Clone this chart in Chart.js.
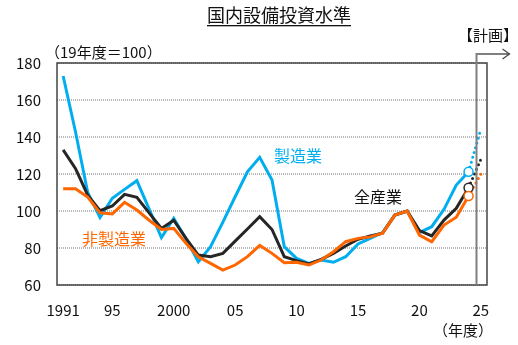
<!DOCTYPE html>
<html lang="ja">
<head>
<meta charset="utf-8">
<title>国内設備投資水準</title>
<script src="https://cdn.jsdelivr.net/npm/chart.js@4.4.1/dist/chart.umd.min.js"></script>
<style>
  html, body { margin: 0; padding: 0; background: #fff; }
  #wrap { width: 518px; height: 345px; }
</style>
</head>
<body>
<div id="wrap"><canvas id="chart" width="518" height="345"></canvas></div>
<script>
// 年度 (実績 1991-2024, 計画 2025)
const years = [1991, 1992, 1993, 1994, 1995, 1996, 1997, 1998, 1999, 2000,
  2001, 2002, 2003, 2004, 2005, 2006, 2007, 2008, 2009, 2010,
  2011, 2012, 2013, 2014, 2015, 2016, 2017, 2018, 2019, 2020,
  2021, 2022, 2023, 2024];
const planYears = [2024, 2025];

// 19年度=100
const allIndustry = [133, 123, 108.6, 100.2, 102.7, 109, 107.4, 99, 90.6, 95,
  85.2, 76.2, 75.3, 77.1, 83.7, 90.3, 96.9, 90, 75.3, 73.2,
  71.4, 73.9, 77.1, 81.1, 84.7, 86.5, 88, 97.8, 100, 89.4,
  86.5, 95.1, 101.5, 112.6];
const manufacturing = [173, 143, 110, 96.5, 106.9, 111.7, 116.4, 101, 85.6, 96,
  85, 72.5, 80.7, 94, 107.7, 121.2, 129, 116.8, 80.7, 74.4,
  71.7, 73.5, 72.3, 75.3, 82.2, 85.2, 88.3, 97.8, 100, 88.3,
  91.5, 100.9, 114, 121.2];
const nonManufacturing = [112, 112, 107.5, 99, 98.4, 104.7, 100.5, 95, 90, 90.6,
  82.5, 75.3, 71.7, 68.1, 70.8, 75.3, 81.4, 77.1, 72, 72.3,
  70.8, 73.5, 78, 83.4, 85.2, 86, 88, 97.8, 100, 87,
  83.4, 92.4, 96.6, 108.1];

const allPlan = [112.6, 128];
const mfgPlan = [121.2, 144.3];
const nonMfgPlan = [108.1, 120];

const xTickYears = [1991, 1995, 2000, 2005, 2010, 2015, 2020, 2025];
const xTickLabels = ['1991', '95', '2000', '05', '10', '15', '20', '25'];

const BLUE = '#00AEEF';
const BLACK = '#262626';
const ORANGE = '#FF6600';
const FONT = "'Noto Sans CJK JP', 'Noto Sans', sans-serif";

function pts(xs, ys) { return xs.map((x, i) => ({ x: x, y: ys[i] })); }

function actual(label, ys, color) {
  const n = ys.length;
  return {
    label: label,
    data: pts(years, ys),
    borderColor: color,
    borderWidth: 3,
    tension: 0,
    pointRadius: ys.map((v, i) => i === n - 1 ? 4.5 : 0),
    pointBackgroundColor: '#fff',
    pointBorderColor: color,
    pointBorderWidth: 1.5,
    pointHoverRadius: 0
  };
}

function plan(label, ys, color) {
  return {
    label: label,
    data: pts(planYears, ys),
    borderColor: color,
    borderWidth: 3,
    borderDash: [0, 5],
    borderCapStyle: 'round',
    pointRadius: 0,
    tension: 0
  };
}

// 枠、計画の区切り線と矢印、注記テキスト
const decorations = {
  id: 'decorations',
  afterDraw(chart) {
    const { ctx, chartArea: a, scales } = chart;
    ctx.save();

    ctx.strokeStyle = '#444';
    ctx.lineWidth = 1.5;
    ctx.strokeRect(a.left, a.top, a.right - a.left, a.bottom - a.top);

    const sx = Math.round(scales.x.getPixelForValue(2024.6)) + 0.5;
    const ay = a.top - 9;
    ctx.strokeStyle = '#808080';
    ctx.lineWidth = 2;
    ctx.beginPath();
    ctx.moveTo(sx, a.bottom);
    ctx.lineTo(sx, ay);
    ctx.lineTo(sx + 33, ay);
    ctx.stroke();
    ctx.lineWidth = 1.2;
    ctx.strokeStyle = '#444';
    ctx.beginPath();
    ctx.moveTo(sx + 26, ay - 5);
    ctx.lineTo(sx + 33, ay);
    ctx.lineTo(sx + 26, ay + 5);
    ctx.stroke();

    ctx.textBaseline = 'middle';
    ctx.fillStyle = '#111';
    ctx.font = '18px ' + FONT;
    ctx.textAlign = 'center';
    ctx.fillText('国内設備投資水準', 279, 15);
    const tw = ctx.measureText('国内設備投資水準').width;
    ctx.fillRect(279 - tw / 2, 25, tw, 1.3);

    ctx.font = '15px ' + FONT;
    ctx.textAlign = 'left';
    ctx.fillText('（19年度＝100）', 45, 52);
    ctx.fillText('【計画】', 458, 35);
    ctx.textAlign = 'right';
    ctx.fillText('（年度）', 493, 330);

    ctx.font = '16px ' + FONT;
    ctx.textAlign = 'left';
    ctx.fillStyle = BLUE;
    ctx.fillText('製造業', 274, 156);
    ctx.fillStyle = '#111';
    ctx.fillText('全産業', 354, 197);
    ctx.fillStyle = ORANGE;
    ctx.fillText('非製造業', 82, 239);

    ctx.restore();
  }
};

new Chart(document.getElementById('chart'), {
  type: 'line',
  data: {
    datasets: [
      actual('非製造業', nonManufacturing, ORANGE),
      actual('全産業', allIndustry, BLACK),
      actual('製造業', manufacturing, BLUE),
      plan('非製造業（計画）', nonMfgPlan, ORANGE),
      plan('全産業（計画）', allPlan, BLACK),
      plan('製造業（計画）', mfgPlan, BLUE)
    ]
  },
  options: {
    responsive: false,
    animation: false,
    layout: { padding: { top: 63, right: 31, left: 0, bottom: 0 } },
    plugins: { legend: { display: false }, tooltip: { enabled: false } },
    scales: {
      x: {
        type: 'linear',
        min: 1990.5,
        max: 2025.5,
        afterBuildTicks: s => { s.ticks = xTickYears.map(v => ({ value: v })); },
        afterFit: s => { s.height = 60; },
        grid: { display: false, drawTicks: false },
        border: { display: false },
        ticks: {
          padding: 16,
          color: '#111',
          font: { family: FONT, size: 15 },
          maxRotation: 0,
          autoSkip: false,
          callback: v => xTickLabels[xTickYears.indexOf(v)]
        }
      },
      y: {
        min: 60,
        max: 180,
        afterFit: s => { s.width = 57; },
        ticks: {
          stepSize: 20,
          padding: 16,
          color: '#111',
          font: { family: FONT, size: 15 }
        },
        grid: { color: '#b8b8b8', lineWidth: 2, drawTicks: false },
        border: { display: false, dash: [1, 1] }
      }
    }
  },
  plugins: [decorations]
});
</script>
</body>
</html>
